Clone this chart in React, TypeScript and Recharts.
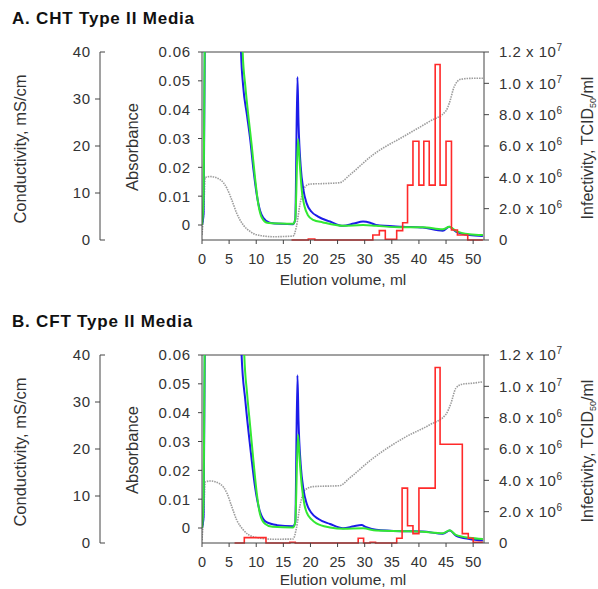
import React from "react";
import { ComposedChart, Line, ReferenceLine, XAxis, YAxis } from "recharts";

const FONT = "'Liberation Sans', Arial, Helvetica, sans-serif";
const INK = "#333";
const AXIS = "#444";

const X_TICKS = [0, 5, 10, 15, 20, 25, 30, 35, 40, 45, 50];
const ABS_TICKS = [0, 0.01, 0.02, 0.03, 0.04, 0.05, 0.06];
const COND_TICKS = [0, 10, 20, 30, 40];
const INF_TICKS = [0, 2e6, 4e6, 6e6, 8e6, 1e7, 1.2e7];

// [elution volume ml, value]
const blueA = [
  [0, 0], [0.3, 0.004], [0.6, 0.09], [1, 0.3], [6.5, 0.3], [7.0, 0.075], [7.2, 0.06],
  [7.6, 0.048], [8.3, 0.038], [8.9, 0.0295], [9.5, 0.019], [10.1, 0.0105], [10.7, 0.005],
  [11.3, 0.0025], [12.5, 0.0008], [14.5, 0.0004], [16.8, 0.0003], [17.2, 0.002], [17.6, 0.0513],
  [17.8, 0.0354], [18.2, 0.0203], [18.7, 0.0122], [19.3, 0.0075], [20.2, 0.0046], [21.4, 0.0029],
  [23.6, 0.0012], [26, -0.0003], [28, 0.0005], [29.7, 0.0012], [31, 0.0008], [32.1, 0],
  [37, -0.0006], [40.7, -0.0009], [44.4, -0.002], [45.6, -0.0006], [46.8, -0.0023],
  [49.3, -0.0035], [51.8, -0.0038],
];
const greenA = [
  [0, 0], [0.3, 0.01], [0.6, 0.09], [1, 0.3], [6.8, 0.3], [7.3, 0.075], [7.5, 0.06],
  [8, 0.048], [8.6, 0.037], [9.2, 0.027], [9.8, 0.016], [10.4, 0.007], [11, 0.0027],
  [12, 0.0008], [14.5, 0.0005], [16.8, 0.0004], [17.2, 0.002], [17.7, 0.0298], [18.0, 0.022],
  [18.4, 0.012], [18.9, 0.0065], [19.5, 0.0035], [20.5, 0.0018], [22.3, 0.0009], [26, -0.0003],
  [29.7, 0], [32.1, -0.0003], [37, -0.0008], [40.7, -0.0008], [44.4, -0.0015], [45.6, -0.0006],
  [46.8, -0.002], [49.3, -0.0032], [51.8, -0.0035],
];
const grayA = [
  [0, 1.1], [0.3, 6], [0.6, 13.3], [1.5, 13.5], [3.4, 12.8], [4.6, 11], [5.5, 8.5], [6.4, 5.7],
  [7.6, 3.2], [8.9, 1.8], [10.1, 1.1], [13.2, 0.7], [16.8, 0.85], [17.4, 2.8], [18.1, 7.8],
  [19, 11.3], [19.9, 11.9], [22.3, 12], [25.4, 12.2], [27.2, 13.8], [31.5, 18.1], [37.6, 22.3],
  [41.9, 25.2], [45, 27.5], [45.6, 29.1], [46.5, 32.6], [47.7, 34.2], [49.9, 34.4], [51.8, 34.4],
];
const redA = [
  [16.5, 0], [19.6, 0.06e6], [20.8, 0], [31.5, 0.32e6], [32.7, 0.6e6], [33.8, 0.05e6],
  [35.9, 0.6e6], [37, 1.1e6], [37.9, 3.5e6], [38.9, 6.3e6], [40, 3.5e6], [40.9, 6.3e6],
  [41.9, 3.5e6], [43, 11.2e6], [43.9, 3.5e6], [45, 6.3e6], [46, 0.64e6], [47.1, 0.32e6],
  [49, 0], [51.8, 0],
];

const blueB = [
  [0, 0], [0.3, 0.004], [0.6, 0.09], [1, 0.3], [6.6, 0.3], [7.1, 0.075], [7.3, 0.06],
  [8.0, 0.044], [8.9, 0.028], [9.8, 0.014], [10.7, 0.0056], [11.9, 0.002], [13.8, 0.001],
  [16.8, 0.0006], [17.2, 0.002], [17.6, 0.053], [17.8, 0.037], [18.2, 0.022], [18.7, 0.0135],
  [19.3, 0.0085], [20.2, 0.0052], [21.4, 0.0032], [23.6, 0.0014], [26, -0.0001], [28, 0.0006],
  [29.4, 0.001], [30.3, 0.0003], [32.1, -0.0006], [37, -0.0011], [40.7, -0.0012], [44.4, -0.002],
  [45.7, -0.0009], [46.8, -0.0026], [49.3, -0.0038], [51.8, -0.0043],
];
const greenB = [
  [0, 0], [0.3, 0.01], [0.6, 0.09], [1, 0.3], [7.1, 0.3], [7.6, 0.075], [7.8, 0.06],
  [8.3, 0.047], [8.9, 0.035], [9.5, 0.023], [10.1, 0.012], [10.7, 0.0048], [11.6, 0.0015],
  [13, 0.0004], [16.8, 0.0002], [17.2, 0.002], [17.7, 0.0324], [18.0, 0.024], [18.4, 0.0146],
  [18.9, 0.008], [19.3, 0.0054], [20.2, 0.003], [21.1, 0.0016], [23.6, 0.0002], [26, -0.0003],
  [29.7, -0.0001], [32.1, -0.0009], [37, -0.0011], [40.7, -0.0013], [44.4, -0.0018],
  [45.7, -0.0008], [46.8, -0.0024], [49.3, -0.0034], [51.8, -0.0038],
];
const grayB = [
  [0, 0.6], [0.3, 6], [0.6, 13], [1.5, 13.2], [3.4, 12.5], [4.6, 10.6], [5.5, 7.7], [6.4, 4.9],
  [7.6, 2.8], [9.5, 1.3], [13.2, 0.8], [16.8, 0.85], [17.4, 3.1], [18.1, 8.1], [19, 11.3],
  [20.5, 12], [25.4, 12.2], [27.2, 13.8], [31.5, 18], [37.6, 22.6], [41.9, 25.1], [45, 27.4],
  [45.9, 29.7], [46.8, 32.9], [48, 33.8], [49.9, 34], [51.8, 34.3],
];
const redB = [
  [6, 0], [7.8, 0.34e6], [11.8, 0], [16.2, 0.05e6], [17.2, 0], [28.8, 0.3e6], [29.8, 0],
  [31, 0.05e6], [32, 0], [35.9, 0.3e6], [36.9, 3.5e6], [37.9, 1.1e6], [38.9, 0.6e6],
  [40, 3.5e6], [43, 11.2e6], [43.9, 6.3e6], [48, 0.6e6], [49.1, 0.3e6], [50, 0.05e6], [51.8, 0.05e6],
];

const pts = (arr: number[][]) => arr.map(([x, v]) => ({ x, v }));

const XTick = ({ x, y, payload }: any) => (
  <text x={x} y={y} dy="0.71em" textAnchor="middle" fill={INK} fontSize={14.5} fontFamily={FONT}>
    {payload.value}
  </text>
);

const AbsTick = ({ x, y, payload }: any) => (
  <text x={x} y={y} dy="0.36em" textAnchor="end" fill={INK} fontSize={15} fontFamily={FONT} style={{ letterSpacing: 0.8 }}>
    {payload.value === 0 ? "0" : payload.value.toFixed(2)}
  </text>
);

const CondTick = ({ x, y, payload }: any) => {
  const ax = x + 9;
  const cap = payload.value === 0 || payload.value === 40;
  return (
    <g>
      <line x1={ax} x2={cap ? ax + 5 : ax - 5} y1={y} y2={y} stroke={AXIS} />
      <text x={x} y={y} dy="0.36em" textAnchor="end" fill={INK} fontSize={15} fontFamily={FONT} style={{ letterSpacing: 0.8 }}>
        {payload.value}
      </text>
    </g>
  );
};

const InfTick = ({ x, y, payload }: any) => {
  const v = payload.value;
  if (v === 0)
    return (
      <text x={x} y={y} dy="0.36em" fill={INK} fontSize={15} fontFamily={FONT}>0</text>
    );
  const exp = v >= 1e7 ? 7 : 6;
  const m = (v / Math.pow(10, exp)).toFixed(1);
  return (
    <text x={x} y={y} dy="0.36em" fill={INK} fontSize={15} fontFamily={FONT} style={{ letterSpacing: 0.5 }}>
      <tspan>{m} x 10</tspan>
      <tspan dy={-6} fontSize={10}>{exp}</tspan>
    </text>
  );
};

function Panel({ title, blue, green, gray, red, height, top, xLabelY }: any) {
  return (
    <div style={{ position: "absolute", left: 0, top, width: 598, height }}>
      <ComposedChart width={598} height={height} margin={{ top: 52, right: 0, bottom: height - 290, left: 0 }}>
        <XAxis
          xAxisId="main" type="number" dataKey="x" domain={[0, 52]} ticks={X_TICKS} allowDataOverflow
          tickSize={4} tickMargin={10} height={50} stroke={AXIS} tick={(p: any) => <XTick {...p} />}
        />
        <YAxis
          yAxisId="abs" orientation="left" width={102} domain={[-0.0052, 0.06]} ticks={ABS_TICKS} allowDataOverflow
          tickSize={4} tickMargin={7} stroke={AXIS} tick={(p: any) => <AbsTick {...p} />}
        />
        <YAxis
          yAxisId="cond" orientation="left" width={100} domain={[0, 40]} ticks={COND_TICKS}
          tickLine={false} tickSize={0} tickMargin={9} stroke={AXIS} tick={(p: any) => <CondTick {...p} />}
        />
        <YAxis
          yAxisId="inf" orientation="right" width={114} domain={[0, 1.2e7]} ticks={INF_TICKS}
          tickSize={5} tickMargin={10} stroke={AXIS} tick={(p: any) => <InfTick {...p} />}
        />
        <ReferenceLine xAxisId="main" yAxisId="abs" y={0.06} stroke={AXIS} strokeWidth={1} />
        <Line data={pts(gray)} dataKey="v" xAxisId="main" yAxisId="cond" type="monotone" dot={false}
          stroke="#9c9c9c" strokeWidth={1.6} strokeDasharray="1.5 1" isAnimationActive={false} />
        <Line data={pts(blue)} dataKey="v" xAxisId="main" yAxisId="abs" type="monotone" dot={false}
          stroke="#1c1ce8" strokeWidth={2} isAnimationActive={false} />
        <Line data={pts(green)} dataKey="v" xAxisId="main" yAxisId="abs" type="monotone" dot={false}
          stroke="#33e833" strokeWidth={2} isAnimationActive={false} />
        <Line data={pts(red)} dataKey="v" xAxisId="main" yAxisId="inf" type="stepAfter" dot={false}
          stroke="#ff2a2a" strokeWidth={1.6} isAnimationActive={false} />
      </ComposedChart>
      <svg width={598} height={height} style={{ position: "absolute", left: 0, top: 0, pointerEvents: "none" }}>
        <text x={12} y={24} fontFamily={FONT} fontWeight="bold" fontSize={17} fill="#111" style={{ letterSpacing: 0.8 }}>
          {title}
        </text>
        <text x={25.5} y={149} transform="rotate(-90 25.5 149)" textAnchor="middle" fontFamily={FONT} fontSize={16.5} fill={INK}>
          Conductivity, mS/cm
        </text>
        <text x={137.5} y={147} transform="rotate(-90 137.5 147)" textAnchor="middle" fontFamily={FONT} fontSize={16.5} fill={INK}>
          Absorbance
        </text>
        <text x={593} y={148} transform="rotate(-90 593 148)" textAnchor="middle" fontFamily={FONT} fontSize={16} fill={INK}>
          Infectivity, TCID<tspan dy={3} fontSize={9}>50</tspan><tspan dy={-3}>/ml</tspan>
        </text>
        <text x={343} y={xLabelY} textAnchor="middle" fontFamily={FONT} fontSize={15.5} fill={INK}>
          Elution volume, ml
        </text>
      </svg>
    </div>
  );
}

export default function App() {
  return (
    <div style={{ position: "absolute", left: 0, top: 0, width: 598, height: 589, background: "#fff", overflow: "hidden" }}>
      <Panel title="A. CHT Type II Media" blue={blueA} green={greenA} gray={grayA} red={redA} height={300} top={0} xLabelY={285} />
      <Panel title="B. CFT Type II Media" blue={blueB} green={greenB} gray={grayB} red={redB} height={286} top={303} xLabelY={282} />
    </div>
  );
}
